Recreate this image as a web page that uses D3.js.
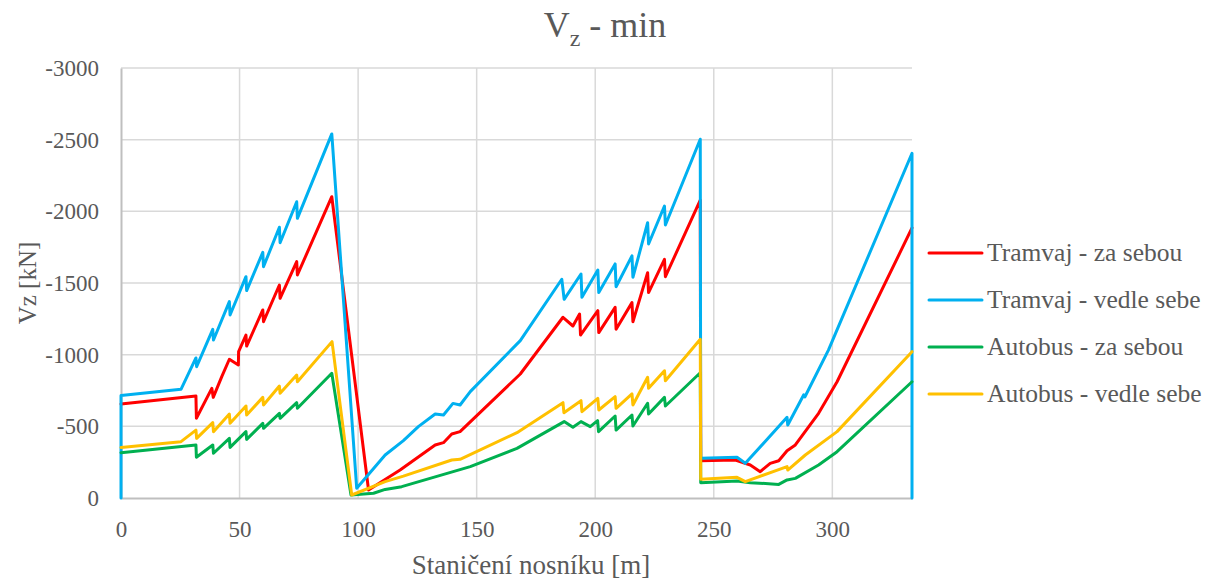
<!DOCTYPE html>
<html>
<head>
<meta charset="utf-8">
<script src="https://cdn.jsdelivr.net/npm/d3@7"></script>
<style>
  html, body { margin: 0; padding: 0; background: #fff; }
  svg text { font-family: "Liberation Serif", "DejaVu Serif", serif; fill: #595959; }
</style>
</head>
<body>
<svg id="chart" width="1207" height="583"></svg>
<script>
// x = staničení [m], y = Vz [kN]
const tramZaSebou = [[0,-656],[31.6,-712],[31.8,-556],[38.3,-765],[38.9,-702],[42.5,-847],[45.7,-968],[49.5,-928],[49.6,-1021],
  [52.7,-1137],[53.0,-1060],[59.8,-1312],[60.1,-1230],[66.8,-1486],[67.1,-1393],[74.1,-1649],[74.4,-1556],[88.9,-2102],
  [104.4,-56],[117.7,-195],[132.5,-370],[136,-386],[139.5,-447],[143,-463],[168.4,-865],[186.4,-1261],[190.6,-1200],
  [193.4,-1284],[193.8,-1137],[201.1,-1307],[201.5,-1154],[208.4,-1330],[208.8,-1177],[215.5,-1363],[215.9,-1230],
  [222.1,-1572],[222.5,-1433],[229.2,-1665],[229.6,-1544],[244.3,-2079],[244.5,-260],[259.1,-265],[265.4,-230],
  [269.6,-184],[273.8,-242],[277.4,-260],[280.9,-330],[284.4,-370],[294.2,-591],[302,-811],[333.6,-1884]];

const tramVedleSebe = [[0,0],[0,-715],[25.3,-758],[31.6,-977],[31.9,-916],[38.7,-1177],[39.0,-1102],[45.7,-1370],[46.0,-1277],
  [52.7,-1544],[53.0,-1447],[59.8,-1714],[60.1,-1614],[66.8,-1889],[67.1,-1781],[74.1,-2067],[74.4,-1951],[88.9,-2540],
  [99.4,-68],[111.4,-300],[119.1,-400],[125.4,-498],[132.5,-586],[136,-579],[140,-660],[143,-649],[147.3,-742],
  [168.4,-1098],[185.9,-1526],[186.9,-1386],[194,-1563],[194.4,-1400],[201.1,-1591],[201.5,-1433],[208.4,-1633],
  [208.8,-1474],[215.5,-1689],[215.9,-1540],[222.1,-1921],[222.5,-1772],[229.2,-2037],[229.6,-1905],[244.3,-2503],
  [244.5,-277],[259.8,-284],[263.3,-242],[280.9,-563],[281.2,-509],[287.9,-719],[288.4,-705],[298.4,-1033],
  [333.6,-2405],[333.6,0]];

const autoZaSebou = [[0,-316],[31.6,-370],[31.8,-284],[38.7,-370],[39.0,-312],[45.7,-416],[46.0,-353],[52.7,-463],[53.0,-409],
  [59.8,-521],[60.1,-486],[66.8,-591],[67.1,-556],[74.1,-665],[74.4,-626],[88.9,-870],[97.0,-21],[106.5,-33],
  [111.4,-60],[118.4,-79],[147.3,-219],[167,-346],[186.9,-533],[190.6,-493],[194,-533],[197.9,-498],[201,-540],
  [201.4,-463],[208.4,-572],[208.8,-474],[215.5,-579],[215.9,-502],[222.1,-661],[222.5,-586],[229.2,-702],
  [229.6,-642],[244.3,-874],[244.5,-107],[259.8,-119],[265.4,-107],[277.4,-95],[280.9,-126],[284.4,-137],
  [294.2,-230],[302,-323],[333.6,-811]];

const autoVedleSebe = [[0,-353],[25.3,-393],[31.6,-474],[31.9,-416],[38.7,-526],[39.0,-463],[45.7,-586],[46.0,-521],
  [52.7,-642],[53.0,-579],[59.8,-702],[60.1,-649],[66.8,-781],[67.1,-730],[74.1,-858],[74.4,-811],[89.0,-1091],
  [97.3,-21],[111.4,-114],[119.1,-153],[139.5,-265],[143,-270],[167,-456],[186.4,-665],[186.8,-595],[194,-679],
  [194.4,-602],[201.1,-695],[201.5,-614],[208.4,-707],[208.8,-626],[215.5,-726],[215.9,-649],[222.1,-842],
  [222.5,-765],[229.2,-888],[229.6,-818],[244.3,-1107],[244.5,-130],[259.8,-144],[263.3,-114],[280.9,-219],
  [281.2,-195],[288.6,-300],[302,-463],[333.6,-1021]];

const seriesNames = ['Tramvaj - za sebou', 'Tramvaj - vedle sebe', 'Autobus - za sebou', 'Autobus - vedle sebe'];
const seriesColors = ['#FF0000', '#00B0F0', '#00B050', '#FFC000'];
const seriesData = [tramZaSebou, tramVedleSebe, autoZaSebou, autoVedleSebe];

const xTicks = [0, 50, 100, 150, 200, 250, 300];
const yTicks = [0, -500, -1000, -1500, -2000, -2500, -3000];

const svg = d3.select('#chart');
const plot = { left: 121, right: 912, top: 68, bottom: 498 };

const x = d3.scaleLinear().domain([0, 333.6]).range([plot.left, plot.right]);
// obrácená osa: záporné hodnoty nahoru
const y = d3.scaleLinear().domain([0, -3000]).range([plot.bottom, plot.top]);

// mřížka
svg.append('g').selectAll('line.hgrid')
  .data(yTicks.filter(d => d !== 0))
  .join('line')
  .attr('x1', plot.left).attr('x2', plot.right)
  .attr('y1', d => y(d)).attr('y2', d => y(d))
  .attr('stroke', '#D9D9D9').attr('stroke-width', 1.5);

svg.append('g').selectAll('line.vgrid')
  .data(xTicks.filter(d => d !== 0))
  .join('line')
  .attr('x1', d => x(d)).attr('x2', d => x(d))
  .attr('y1', plot.top).attr('y2', plot.bottom)
  .attr('stroke', '#D9D9D9').attr('stroke-width', 1.5);

// osy
const xAxis = svg.append('g')
  .attr('transform', `translate(0,${plot.bottom})`)
  .call(d3.axisBottom(x).tickValues(xTicks).tickSize(0).tickPadding(23).tickFormat(d => String(d)));
xAxis.select('.domain').attr('stroke', '#BFBFBF').attr('stroke-width', 2);
xAxis.selectAll('text').attr('font-size', 23).attr('fill', '#595959')
  .style('font-family', '"Liberation Serif", serif');

const yAxis = svg.append('g')
  .attr('transform', `translate(${plot.left},0)`)
  .call(d3.axisLeft(y).tickValues(yTicks).tickSize(0).tickPadding(22).tickFormat(d => String(d)));
yAxis.select('.domain').attr('stroke', '#BFBFBF').attr('stroke-width', 2);
yAxis.selectAll('text').attr('font-size', 23).attr('fill', '#595959')
  .style('font-family', '"Liberation Serif", serif');

// řady
const line = d3.line().x(d => x(d[0])).y(d => y(d[1]));
seriesData.forEach((data, i) => {
  svg.append('path')
    .datum(data)
    .attr('fill', 'none')
    .attr('stroke', seriesColors[i])
    .attr('stroke-width', 3)
    .attr('stroke-linejoin', 'round')
    .attr('stroke-linecap', 'round')
    .attr('d', line);
});

// titulek
const title = svg.append('text')
  .attr('x', 605).attr('y', 37)
  .attr('text-anchor', 'middle')
  .attr('font-size', 36);
title.append('tspan').text('V');
title.append('tspan').attr('font-size', 24).attr('dy', 9).text('z');
title.append('tspan').attr('dy', -9).text(' - min');

svg.append('text')
  .attr('x', 531).attr('y', 574)
  .attr('text-anchor', 'middle')
  .attr('font-size', 27)
  .text('Staničení nosníku [m]');

svg.append('text')
  .attr('transform', 'translate(36,283) rotate(-90)')
  .attr('text-anchor', 'middle')
  .attr('font-size', 25)
  .text('Vz [kN]');

// legenda
const legendY = [253, 300, 347, 394];
const legend = svg.append('g');
seriesNames.forEach((name, i) => {
  legend.append('line')
    .attr('x1', 929).attr('x2', 982)
    .attr('y1', legendY[i]).attr('y2', legendY[i])
    .attr('stroke', seriesColors[i]).attr('stroke-width', 3).attr('stroke-linecap', 'round');
  legend.append('text')
    .attr('x', 987).attr('y', legendY[i])
    .attr('dy', '0.33em')
    .attr('font-size', 25.5)
    .text(name);
});
</script>
</body>
</html>
